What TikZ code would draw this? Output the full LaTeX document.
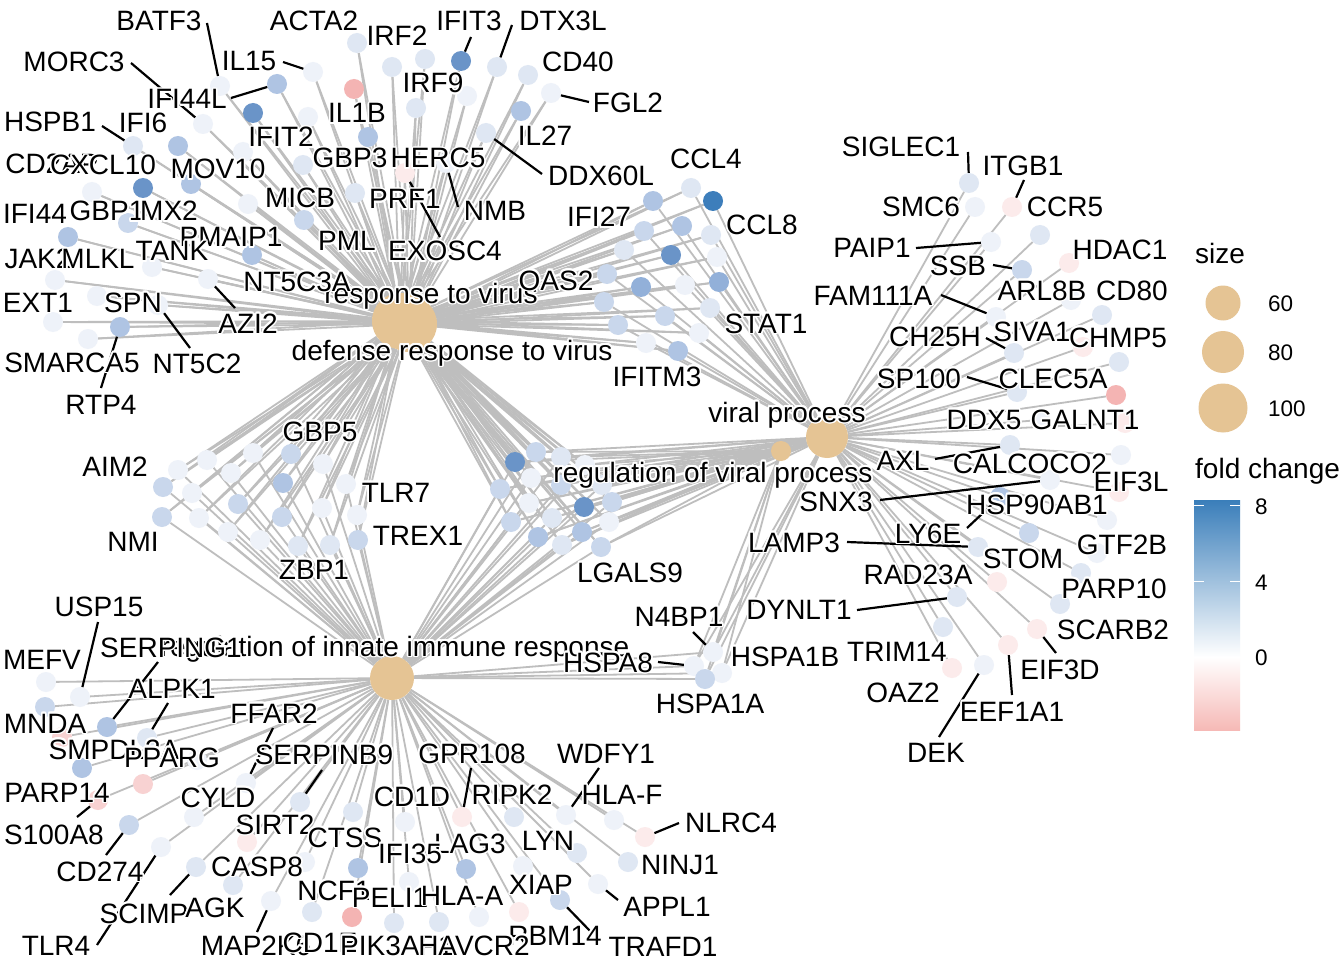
\documentclass[tikz,border=0pt]{standalone}
\usepackage{fontspec}
\newfontfamily\lf{Liberation Sans}
\usepackage[copies]{contour}
\contourlength{1.6pt}
\contournumber{16}
\newcommand\hl[1]{\contour{white}{#1}}
\definecolor{cat}{HTML}{E5C494}
\definecolor{edgegray}{HTML}{BEBEBE}
\definecolor{c0}{HTML}{EEF2F9}
\definecolor{c1}{HTML}{DFE7F3}
\definecolor{c2}{HTML}{C9D7EC}
\definecolor{c3}{HTML}{AFC4E3}
\definecolor{c4}{HTML}{92B0D9}
\definecolor{c5}{HTML}{6A94C8}
\definecolor{c6}{HTML}{3D7EBB}
\definecolor{p0}{HTML}{FCEBEB}
\definecolor{p1}{HTML}{F8D2D2}
\definecolor{p2}{HTML}{F4B4B3}
\definecolor{fcblue}{HTML}{3A7EBA}
\definecolor{fcpink}{HTML}{F6B9B6}
\pgfdeclarelayer{edgelayer}
\pgfsetlayers{edgelayer,main}
\begin{document}
\begin{tikzpicture}[x=1pt,y=-1pt,
  gn/.style={circle,inner sep=0pt,minimum size=20pt,draw=none},
  cn/.style={circle,inner sep=0pt,fill=cat,draw=none},
  edge/.style={draw=edgegray,line width=1.8pt},
  leader/.style={draw=black,line width=2.2pt},
  lab/.style={font=\lf\fontsize{28}{30}\selectfont,inner sep=0pt,text height=20pt,text depth=0pt},
  clab/.style={font=\lf\fontsize{28}{30}\selectfont,inner sep=0pt,text height=20pt,text depth=6pt},
  tick/.style={font=\lf\fontsize{22.5}{24}\selectfont,inner sep=0pt,text height=16pt,text depth=0pt,anchor=west}]
\useasboundingbox (0,0) rectangle (1344,960);

% category nodes
\node[cn,minimum size=56pt] (R) at (400,321) {};
\node[cn,minimum size=56pt] (D) at (409,324) {};
\node[cn,minimum size=42pt] (V) at (827,437) {};
\node[cn,minimum size=20pt] (RV) at (781,451) {};
\node[cn,minimum size=44pt] (I) at (392,678) {};

% group a: response / defense response to virus
\foreach \n/\x/\y/\c in {a1/357/43/c1,a2/392/67/c1,a3/425/59/c1,a4/354/89/p2,a5/416/108/c1,a6/313/72/c0,a7/277/84/c3,a8/220/86/c0,a9/253/113/c5,a10/308/117/c0,a11/368/137/c3,a12/203/124/c0,a13/133/146/c1,a14/178/146/c3,a15/243/152/c0,a16/303/165/c1,a17/405/173/p0,a18/143/188/c5,a19/92/192/c0,a20/191/184/c3,a21/248/204/c0,a22/355/193/c1,a23/304/220/c2,a24/128/223/c2,a25/68/237/c3,a26/252/255/c3,a27/152/267/c0,a28/55/280/c0,a29/208/279/c0,a30/97/296/c0,a31/53/322/c0,a32/88/339/c0,a33/120/327/c3,a34/158/305/c0,a35/461/61/c5,a36/497/67/c1,a37/528/75/c1,a38/467/96/c0,a39/551/93/c0,a40/521/111/c3,a41/486/133/c1,a42/446/163/c0}
  {\node[gn,fill=\c] (\n) at (\x,\y) {};}
% group b: virus + viral process
\foreach \n/\x/\y/\c in {b1/653/201/c3,b2/691/188/c1,b3/713/201/c6,b4/644/231/c2,b5/682/226/c3,b6/711/235/c1,b7/624/250/c1,b8/671/255/c5,b9/717/257/c0,b10/607/274/c2,b11/641/287/c4,b12/685/285/c0,b13/719/282/c4,b14/604/302/c2,b15/665/316/c2,b16/710/308/c1,b17/618/325/c2,b18/699/333/c0,b19/646/343/c0,b20/678/351/c3}
  {\node[gn,fill=\c] (\n) at (\x,\y) {};}
% group d: virus + innate
\foreach \n/\x/\y/\c in {d1/178/470/c0,d2/207/460/c0,d3/253/453/c0,d4/291/454/c2,d5/323/464/c0,d6/163/487/c2,d7/192/493/c0,d8/231/473/c0,d9/283/483/c3,d10/346/484/c0,d11/238/504/c2,d12/322/508/c0,d13/282/517/c2,d14/357/515/c0,d15/162/517/c2,d16/199/518/c0,d17/228/532/c0,d18/260/540/c0,d19/298/546/c1,d20/330/545/c1,d21/358/540/c2}
  {\node[gn,fill=\c] (\n) at (\x,\y) {};}
% group e: regulation of viral process cluster
\foreach \n/\x/\y/\c in {e1/515/462/c5,e2/536/452/c2,e3/561/457/c1,e4/585/465/c0,e5/531/478/c0,e6/500/489/c2,e7/561/485/c2,e8/602/485/c1,e9/529/503/c0,e10/584/507/c5,e11/612/502/c2,e12/511/522/c2,e13/552/518/c1,e14/609/522/c0,e15/538/537/c3,e16/582/532/c3,e17/562/545/c1,e18/601/547/c2}
  {\node[gn,fill=\c] (\n) at (\x,\y) {};}
% group f: viral process
\foreach \n/\x/\y/\c in {f1/969/183/c1,f2/975/207/c0,f3/1012/207/p0,f4/1040/235/c1,f5/991/242/c0,f6/1069/263/p0,f7/1022/270/c2,f8/1071/300/c0,f9/1102/315/c1,f10/996/317/c0,f11/1083/347/p0,f12/1014/353/c1,f13/1119/362/c1,f14/1017/392/c1,f15/1116/395/p2,f16/1040/420/c0,f17/1125/423/p0,f18/1010/445/c1,f19/1121/455/c0,f20/1050/480/c0,f21/1119/492/p0,f22/1107/520/c0,f23/1029/533/c2,f24/978/547/c1,f25/1097/553/c0,f26/1081/573/c1,f27/997/582/p0,f28/957/597/c1,f29/1060/604/c1,f30/943/627/c1,f31/1037/629/p0,f32/1008/645/p0,f33/952/668/p0,f34/984/665/c0,f35/1000/497/c3}
  {\node[gn,fill=\c] (\n) at (\x,\y) {};}
% group h: HSPA cluster
\foreach \n/\x/\y/\c in {h1/713/652/c0,h2/694/666/c0,h3/722/673/c0,h4/705/679/c2}
  {\node[gn,fill=\c] (\n) at (\x,\y) {};}
% group i: innate immune response
\foreach \n/\x/\y/\c in {i1/46/682/c0,i2/80/697/c0,i3/45/707/c2,i4/107/727/c3,i5/147/738/c1,i6/62/737/p1,i7/82/768/c3,i8/143/784/p1,i9/98/800/p1,i10/197/760/c0,i11/246/783/c0,i12/194/817/c0,i13/129/825/c2,i14/161/847/c0,i15/196/867/c1,i16/233/885/c1,i17/247/842/p0,i18/271/901/c0,i19/300/802/c1,i20/353/812/c1,i21/358/868/c3,i22/312/912/c1,i23/352/917/p2,i24/394/923/c1,i25/405/822/c0,i26/409/882/c0,i27/462/817/p0,i28/514/817/c1,i29/566/815/c0,i30/614/820/c0,i31/645/837/p0,i32/577/853/c1,i33/628/862/c1,i34/523/866/c0,i35/466/869/c3,i36/598/884/c0,i37/560/900/c2,i38/519/912/p0,i39/479/917/c0,i40/439/922/c1,i41/305/862/c0}
  {\node[gn,fill=\c] (\n) at (\x,\y) {};}

% edges
\begin{pgfonlayer}{edgelayer}
\fill[white] (0,0) rectangle (1344,960);
\foreach \k in {1,...,42} {\draw[edge] (R) -- (a\k); \draw[edge] (D) -- (a\k);}
\foreach \k in {1,...,20} {\draw[edge] (R) -- (b\k); \draw[edge] (D) -- (b\k); \draw[edge] (V) -- (b\k);}
\foreach \k in {1,...,21} {\draw[edge] (R) -- (d\k); \draw[edge] (D) -- (d\k); \draw[edge] (I) -- (d\k);}
\foreach \k in {1,...,18} {\draw[edge] (R) -- (e\k); \draw[edge] (D) -- (e\k); \draw[edge] (V) -- (e\k); \draw[edge] (RV) -- (e\k); \draw[edge] (I) -- (e\k);}
\foreach \k in {1,...,35} {\draw[edge] (V) -- (f\k);}
\foreach \k in {1,...,4} {\draw[edge] (I) -- (h\k); \draw[edge] (V) -- (h\k); \draw[edge] (RV) -- (h\k);}
\foreach \k in {1,...,41} {\draw[edge] (I) -- (i\k);}
\end{pgfonlayer}

% leader lines
\foreach \s/\sx/\sy/\g in {BATF3/207/23/a8,MORC3/131/63/a12,IL15/283/62/a6,IFI44L/231/98/a7,HSPB1/102/126/a13,IFIT3/471/37/a35,DTX3L/512/25/a36,FGL2/589/102/a39,DDX60L/542/174/a41,NMB/458/207/a42,EXOSC4/440/237/a17,AZI2/235/308/a29,NT5C2/190/348/a34,RTP4/101/388/a33,SIGLEC1/968/152/f1,ITGB1/1024/180/f3,PAIP1/916/248/f5,SSB/993/265/f7,FAM111A/941/295/f10,CH25H/986/338/f12,SP100/967/377/f14,AXL/935/459/f18,SNX3/880/500/f20,LY6E/967/528/f35,LAMP3/847/542/f24,DYNLT1/857/610/f28,EIF3D/1056/653/f31,EEF1A1/1012/695/f32,DEK/939/737/f34,N4BP1/693/632/h1,HSPA8/658/662/h2,USP15/98/622/i2,SERPING1/158/662/i4,ALPK1/168/703/i5,FFAR2/273/728/i11,SERPINB9/322/770/i19,S100A8/77/817/i9,CD274/106/855/i13,TLR4/97/945/i14,SCIMP/170/895/i15,MAP2K6/257/932/i18,GPR108/471/768/i27,WDFY1/599/768/i29,NLRC4/679/823/i31,APPL1/618/900/i36,TRAFD1/592/933/i37}
  {\coordinate (ld-\s) at (\sx,\sy); \draw[leader] (ld-\s) -- (\g);}

% category labels
\node[clab] (LR) at (431,296) {\hl{response to virus}};
\node[clab] (LD) at (452,353) {\hl{defense response to virus}};
\node[clab] (LV) at (787,415) {\hl{viral process}};
\node[clab] (LRV) at (713,475) {\hl{regulation of viral process}};
\node[clab] (LI) at (395,649) {\hl{regulation of innate immune response}};

% gene labels
\foreach \t/\x/\y in {BATF3/159/21,ACTA2/314/21,IRF2/397/36,IFIT3/469/21,DTX3L/563/21,MORC3/74/62,IL15/249/61,CD40/578/62,IRF9/433/83,IFI44L/187/99,FGL2/628/103,IL1B/357/113,HSPB1/50/122,IFI6/143/123,IFIT2/281/137,IL27/545/136,GBP3/350/158,HERC5/438/158,CD2AP/52/164,CXCL10/103/165,MOV10/218/169,DDX60L/601/176,CCL4/706/159,MICB/300/198,PRF1/405/199,NMB/495/211,IFI44/35/214,GBP1/107/211,MX2/169/211,IFI27/599/217,CCL8/762/224,PMAIP1/231/237,PML/347/241,EXOSC4/445/251,TANK/172/251,JAK2/38/259,MLKL/98/259,NT5C3A/297/281,OAS2/556/280,EXT1/38/302,SPN/133/302,AZI2/248/323,STAT1/766/323,SMARCA5/72/362,NT5C2/197/363,IFITM3/657/376,RTP4/101/404,GBP5/320/431,AIM2/115/466,TLR7/396/492,NMI/133/541,TREX1/418/535,LGALS9/630/572,ZBP1/314/569}
  {\node[lab] (L-\t) at (\x,\y) {\hl{\t}};}
\foreach \t/\x/\y in {SIGLEC1/901/147,ITGB1/1023/166,SMC6/921/207,CCR5/1065/207,PAIP1/872/248,HDAC1/1120/249,SSB/958/266,FAM111A/873/295,ARL8B/1042/290,CD80/1132/290,CH25H/935/336,SIVA1/1032/331,CHMP5/1118/337,SP100/919/378,CLEC5A/1053/378,DDX5/984/419,GALNT1/1085/419,AXL/903/460,CALCOCO2/1030/463,EIF3L/1131/481,SNX3/836/501,HSP90AB1/1037/504,LY6E/928/533,LAMP3/794/542,GTF2B/1122/544,STOM/1023/558,RAD23A/918/574,PARP10/1114/588,DYNLT1/799/609,N4BP1/679/616,SCARB2/1113/629,TRIM14/897/651,HSPA1B/785/656,HSPA8/608/662,EIF3D/1060/669,OAZ2/903/692,HSPA1A/710/703,EEF1A1/1012/711,DEK/936/752}
  {\node[lab] (L-\t) at (\x,\y) {\hl{\t}};}
\foreach \t/\x/\y in {USP15/99/606,SERPING1/171/647,MEFV/42/659,ALPK1/172/688,FFAR2/274/713,MNDA/45/723,SMPDL3A/114/749,PPARG/172/757,SERPINB9/324/754,GPR108/472/753,WDFY1/606/753,PARP14/57/792,CYLD/218/797,CD1D/412/796,RIPK2/512/794,HLA-F/622/794,NLRC4/731/822,S100A8/54/834,SIRT2/275/824,CTSS/345/837,LAG3/470/843,LYN/548/840,IFI35/410/853,NINJ1/680/864,CD274/100/871,CASP8/257/866,XIAP/541/884,NCF1/334/890,PELI1/390/897,HLA-A/462/895,APPL1/667/906,SCIMP/144/913,AGK/215/907,RBM14/555/935,TLR4/56/945,MAP2K6/256/945,CD1E/320/942,PIK3AP1/397/945,HAVCR2/474/945,TRAFD1/663/946}
  {\node[lab] (L-\t) at (\x,\y) {\hl{\t}};}

% legend: size
\node[lab,anchor=west] (Lsize) at (1195,253) {size};
\node[cn,minimum size=35pt] (s60) at (1223,303) {};
\node[cn,minimum size=42pt] (s80) at (1223,352) {};
\node[cn,minimum size=49pt] (s100) at (1223,408) {};
\node[tick] (t60) at (1268,303) {60};
\node[tick] (t80) at (1268,352) {80};
\node[tick] (t100) at (1268,408) {100};
% legend: fold change
\node[lab,anchor=west] (Lfc) at (1195,468) {fold change};
\shade[top color=fcblue,bottom color=white] (1194,500) rectangle (1240,657);
\shade[top color=white,bottom color=fcpink] (1194,657) rectangle (1240,730);
\foreach \ty in {505,581,657}
  {\draw[white,line width=1pt] (1194,\ty) -- (1204,\ty) (1230,\ty) -- (1240,\ty);}
\node[tick] (t8) at (1255,506) {8};
\node[tick] (t4) at (1255,582) {4};
\node[tick] (t0) at (1255,657) {0};
\end{tikzpicture}
\end{document}
